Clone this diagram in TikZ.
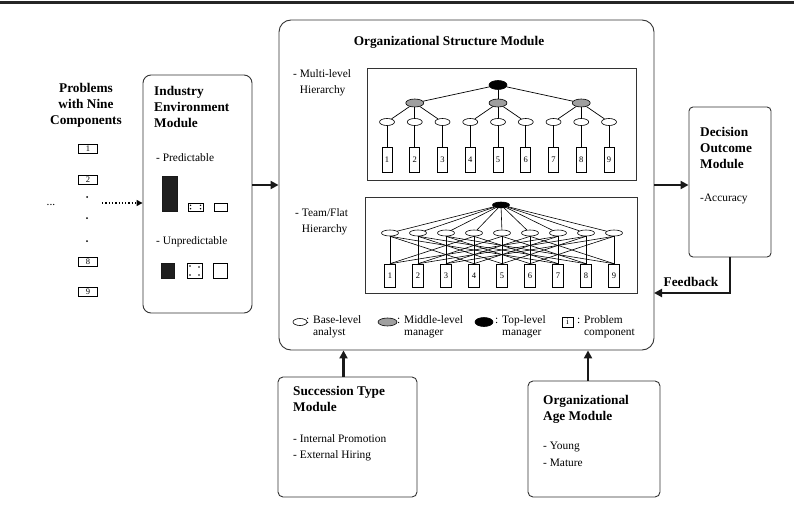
\documentclass[tikz,border=0pt]{standalone}
\usepackage{fontspec}
\setmainfont{Liberation Serif}
\usetikzlibrary{calc, shapes.geometric, arrows.meta}

\newcommand{\hdfont}{\fontsize{13.3}{15.8}\selectfont\bfseries}
\newcommand{\txfont}{\fontsize{11.4}{16.5}\selectfont}
\newcommand{\lgfont}{\fontsize{11.4}{12.5}\selectfont}
\newcommand{\nrfont}{\fontsize{8.5}{9}\selectfont}

\tikzset{
	modbox/.style={rectangle, draw=black!80, line width=0.9pt, inner sep=0},
	analyst/.style={ellipse, draw, fill=white, inner sep=0, line width=0.6pt},
	manager/.style={ellipse, draw, fill=gray!75, inner sep=0, line width=0.6pt},
	topman/.style={ellipse, draw, fill=black, inner sep=0, line width=0.6pt},
	comp/.style={rectangle, draw, fill=white, inner sep=0, line width=0.6pt, font=\nrfont},
	numbox/.style={rectangle, draw, inner sep=0.5pt, line width=0.6pt, minimum width=19pt, minimum height=9pt, font=\nrfont},
	blk/.style={draw=black!90, fill=black!88, line width=0.5pt},
	bigarrow/.style={line width=2.6pt, black!90, -{Triangle[length=8pt,width=8pt]}},
	link/.style={line width=0.7pt},
}

\begin{document}
\begin{tikzpicture}[x=1pt, y=-1pt]
	\useasboundingbox (0,0) rectangle (794,508);
	\draw[line width=3pt, black!85] (0,3) -- (794,3);
	
	% problems
	\node[anchor=north, align=center, font=\hdfont] (probtitle) at (86,80) {Problems\\with Nine\\Components};
	\node[numbox] (p1) at (88,149) {1};
	\node[numbox] (p2) at (88,180) {2};
	\node[numbox] (p8) at (88,262) {8};
	\node[numbox] (p9) at (88,292) {9};
	\foreach \y in {197,218,241}
		\fill (87,\y) circle (1pt);
	\node[font=\txfont] (more) at (51,205) {...};
	\coordinate (dotstart) at (102,203);
	
	% industry environment
	\node[modbox, rounded corners=8pt, minimum width=109pt, minimum height=238pt] (industry) at (197.5,194) {};
	\node[anchor=north west, align=left, font=\hdfont, inner sep=0] (indtitle) at (154,86) {Industry\\Environment\\Module};
	\node[anchor=west, font=\txfont, inner sep=0] (pred) at (156,158) {- Predictable};
	\node[anchor=west, font=\txfont, inner sep=0] (unpred) at (156,242) {- Unpredictable};
	\draw[blk] (162,176) rectangle (177,211);
	\draw[line width=0.6pt] (188,203) rectangle (203,211);
	\draw[line width=0.6pt] (214,203) rectangle (227,211);
	\foreach \x/\y in {190.5/205.3,200.5/205.3,190.5/208.7,200.5/208.7}
		\fill (\x,\y) circle (0.8pt);
	\draw[blk] (161,263) rectangle (174,278);
	\draw[line width=0.6pt] (187,263) rectangle (202,278);
	\draw[line width=0.6pt] (213,263) rectangle (227,278);
	\foreach \x/\y in {190/266,199/267,190/275,199/275}
		\fill (\x,\y) circle (0.8pt);
	
	\draw[line width=1.3pt, dotted, -{Triangle[length=6pt,width=6pt]}] (dotstart) -- (dotstart -| industry.west);
	
	% organizational structure
	\node[modbox, rounded corners=12pt, minimum width=375pt, minimum height=330pt] (org) at (466.5,185) {};
	\node[font=\hdfont] (orgtitle) at (449,42) {Organizational Structure Module};
	\node[anchor=north west, align=left, font=\txfont, inner sep=0] (multilab) at (293,69) {- Multi-level\\\phantom{- }Hierarchy};
	\node[anchor=north west, align=left, font=\txfont, inner sep=0] (flatlab) at (295,208) {- Team/Flat\\\phantom{- }Hierarchy};
	
	% multi-level hierarchy
	\node[modbox, line width=0.8pt, minimum width=269pt, minimum height=112pt] (multibox) at (501.5,124) {};
	\node[topman, minimum width=18pt, minimum height=9pt] (mtop) at (498,85) {};
	\foreach \i in {1,...,9} {
		\node[analyst, minimum width=15pt, minimum height=7pt] (mbase\i) at ({387+27.75*(\i-1)},122) {};
		\node[comp, minimum width=10pt, minimum height=25pt] (mcomp\i) at ({387+27.75*(\i-1)},159.5) {\i};
		\draw[link] (mbase\i) -- (mcomp\i);
	}
	\foreach \j/\k in {1/2,2/5,3/8} {
		\node[manager, minimum width=18pt, minimum height=8pt] (mmid\j) at ({387+27.75*(\k-1)},103) {};
		\draw[link] (mtop) -- (mmid\j);
		\foreach \d in {-1,0,1} {
			\pgfmathtruncatemacro{\b}{\k+\d}
			\draw[link] (mmid\j) -- (mbase\b);
		}
	}
	
	% team/flat hierarchy
	\node[modbox, line width=0.8pt, minimum width=272pt, minimum height=96pt] (flatbox) at (501,245) {};
	\node[topman, minimum width=17pt, minimum height=6pt] (ftop) at (501,205) {};
	\foreach \i in {1,...,9} {
		\node[analyst, minimum width=17pt, minimum height=6pt] (fbase\i) at ({390+28*(\i-1)},233) {};
		\node[comp, minimum width=11pt, minimum height=23pt] (fcomp\i) at ({390+28*(\i-1)},275.5) {\i};
		\draw[link, line width=0.6pt] (ftop) -- (fbase\i);
	}
	\foreach \i in {1,...,9} {
		\foreach \j in {1,...,9} {
			\pgfmathtruncatemacro{\m}{mod(\i-\j+9,3)}
			\ifnum\m=0 \draw[link, line width=0.6pt] (fbase\i.south) -- (fcomp\j.north); \fi
		}
	}
	
	% legend
	\node[analyst, minimum width=14pt, minimum height=7pt] (lgbase) at (300,322) {};
	\node[anchor=north west, align=left, font=\lgfont, inner sep=0] (lgbasetxt) at (306,315) {: Base-level\\\phantom{: }analyst};
	\node[manager, minimum width=19pt, minimum height=8pt] (lgmid) at (387.5,322) {};
	\node[anchor=north west, align=left, font=\lgfont, inner sep=0] (lgmidtxt) at (397,315) {: Middle-level\\\phantom{: }manager};
	\node[topman, minimum width=18pt, minimum height=9pt] (lgtop) at (484,322) {};
	\node[anchor=north west, align=left, font=\lgfont, inner sep=0] (lgtoptxt) at (495,315) {: Top-level\\\phantom{: }manager};
	\node[comp, minimum width=11pt, minimum height=10pt] (lgcomp) at (567.5,322) {i};
	\node[anchor=north west, align=left, font=\lgfont, inner sep=0] (lgcomptxt) at (577,315) {: Problem\\\phantom{: }component};
	
	\draw[bigarrow] (industry.east |- org.west) -- (org.west);
	
	% decision outcome
	\node[modbox, rounded corners=4pt, minimum width=82pt, minimum height=150pt] (decision) at (730,182) {};
	\node[anchor=north west, align=left, font=\hdfont, inner sep=0] (dectitle) at (700,127) {Decision\\Outcome\\Module};
	\node[anchor=west, font=\txfont, inner sep=0] (accuracy) at (700,199) {-Accuracy};
	\draw[bigarrow] (org.east) -- (org.east -| decision.west);
	\coordinate (fbend) at (654,293);
	\draw[bigarrow] (decision.south) |- (fbend);
	\node[font=\hdfont] (feedback) at (691,282) {Feedback};
	
	% succession type
	\node[modbox, rounded corners=5pt, minimum width=139pt, minimum height=120pt] (succession) at (347.5,437) {};
	\node[anchor=north west, align=left, font=\hdfont, inner sep=0] (succtitle) at (293,386) {Succession Type\\Module};
	\node[anchor=north west, align=left, font=\txfont, inner sep=0] (succitems) at (293,434) {- Internal Promotion\\- External Hiring};
	\draw[bigarrow] ([xshift=-4pt]succession.north) -- ([xshift=-4pt]succession.north |- org.south);
	
	% organizational age
	\node[modbox, rounded corners=5pt, minimum width=132pt, minimum height=116pt] (age) at (594,439) {};
	\node[anchor=north west, align=left, font=\hdfont, inner sep=0] (agetitle) at (543,395) {Organizational\\Age Module};
	\node[anchor=north west, align=left, font=\txfont, inner sep=0] (ageitems) at (543,442) {- Young\\- Mature};
	\draw[bigarrow] ([xshift=-6pt]age.north) -- ([xshift=-6pt]age.north |- org.south);
	
\end{tikzpicture}
\end{document}
